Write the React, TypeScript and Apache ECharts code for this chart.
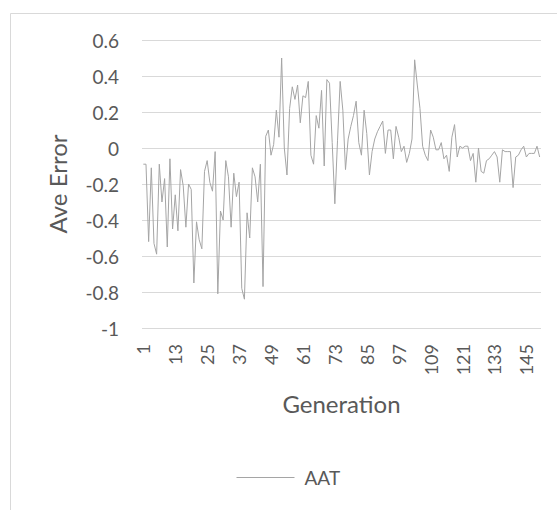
import React, { useEffect, useRef } from "react";
import * as echarts from "echarts";

const generations: string[] = Array.from({ length: 150 }, (_, i) => String(i + 1));

const aatValues: number[] = [
  -0.09, -0.09, -0.52, -0.11, -0.53, -0.59, -0.09, -0.30, -0.17, -0.55,
  -0.06, -0.45, -0.26, -0.46, -0.12, -0.21, -0.44, -0.20, -0.23, -0.75,
  -0.41, -0.51, -0.56, -0.13, -0.07, -0.19, -0.24, -0.02, -0.81, -0.35,
  -0.40, -0.07, -0.16, -0.44, -0.14, -0.27, -0.19, -0.78, -0.84, -0.36,
  -0.50, -0.11, -0.16, -0.30, -0.09, -0.77, 0.065, 0.10, -0.04, 0.02,
  0.21, 0.06, 0.50, 0.00, -0.15, 0.22, 0.34, 0.27, 0.35, 0.14,
  0.29, 0.28, 0.37, -0.04, -0.09, 0.18, 0.11, 0.32, -0.10, 0.38,
  0.36, 0.03, -0.31, 0.04, 0.37, 0.21, -0.12, 0.05, 0.12, 0.18,
  0.26, 0.03, -0.04, 0.21, 0.08, -0.15, -0.02, 0.05, 0.09, 0.12,
  0.15, -0.03, 0.10, 0.10, -0.06, 0.12, 0.06, -0.02, 0.01, -0.08,
  -0.03, 0.05, 0.49, 0.35, 0.22, 0.01, -0.04, -0.07, 0.10, 0.06,
  -0.01, -0.01, 0.03, -0.06, -0.04, -0.13, 0.06, 0.13, -0.05, 0.01,
  0.00, 0.01, 0.01, -0.07, -0.03, -0.19, 0.00, -0.13, -0.14, -0.07,
  -0.06, -0.04, -0.02, -0.05, -0.19, -0.01, -0.02, -0.02, -0.02, -0.22,
  -0.05, -0.04, -0.01, 0.01, -0.05, -0.03, -0.03, -0.03, 0.01, -0.05,
];

const seriesName = "AAT";
const xTitle = "Generation";
const yTitle = "Ave Error";
const yMin = -1;
const yMax = 0.6;
const yStep = 0.2;

const FONT = "Lato, 'Open Sans', sans-serif";
const TEXT = "#595959";
const GRID = "#d9d9d9";
const LINE = "#a5a5a5";

export default function App() {
  const ref = useRef<HTMLDivElement>(null);

  useEffect(() => {
    if (!ref.current) return;
    const chart = echarts.init(ref.current, undefined, { renderer: "svg" });
    chart.setOption({
      animation: false,
      backgroundColor: "#ffffff",
      textStyle: { fontFamily: FONT, color: TEXT },
      graphic: [
        {
          type: "rect",
          left: 8,
          top: 11,
          shape: { x: 0, y: 0, width: 700, height: 700 },
          style: { fill: "none", stroke: GRID, lineWidth: 1 },
          silent: true,
        },
      ],
      grid: { left: 142, right: 16, top: 40, bottom: 182, containLabel: false },
      legend: {
        left: 236,
        top: 468,
        padding: 0,
        itemWidth: 58,
        itemHeight: 16,
        data: [seriesName],
        itemStyle: { opacity: 0 },
        lineStyle: { color: LINE, width: 1 },
        textStyle: { fontFamily: FONT, color: TEXT, fontSize: 19, padding: [0, 0, 0, 5] },
      },
      xAxis: {
        type: "category",
        data: generations,
        boundaryGap: true,
        name: xTitle,
        nameLocation: "middle",
        nameGap: 63,
        nameTextStyle: { fontFamily: FONT, color: TEXT, fontSize: 24 },
        axisLine: { show: false },
        axisTick: { show: false },
        axisLabel: {
          interval: 11,
          rotate: 90,
          margin: 16,
          fontFamily: FONT,
          color: TEXT,
          fontSize: 18,
        },
        splitLine: { show: false },
      },
      yAxis: {
        type: "value",
        min: yMin,
        max: yMax,
        interval: yStep,
        name: yTitle,
        nameLocation: "middle",
        nameGap: 73,
        nameTextStyle: { fontFamily: FONT, color: TEXT, fontSize: 24 },
        axisLine: { show: false },
        axisTick: { show: false },
        axisLabel: {
          margin: 23,
          fontFamily: FONT,
          color: TEXT,
          fontSize: 19,
          formatter: (v: number) => String(Math.round(v * 10) / 10),
        },
        splitLine: { show: true, lineStyle: { color: GRID, width: 1 } },
      },
      series: [
        {
          name: seriesName,
          type: "line",
          data: aatValues,
          symbol: "none",
          showSymbol: false,
          lineStyle: { color: LINE, width: 1 },
          itemStyle: { color: LINE },
        },
      ],
    });
    return () => chart.dispose();
  }, []);

  return (
    <div
      ref={ref}
      style={{ position: "fixed", left: 0, top: 0, width: 557, height: 510, background: "#fff" }}
    />
  );
}
